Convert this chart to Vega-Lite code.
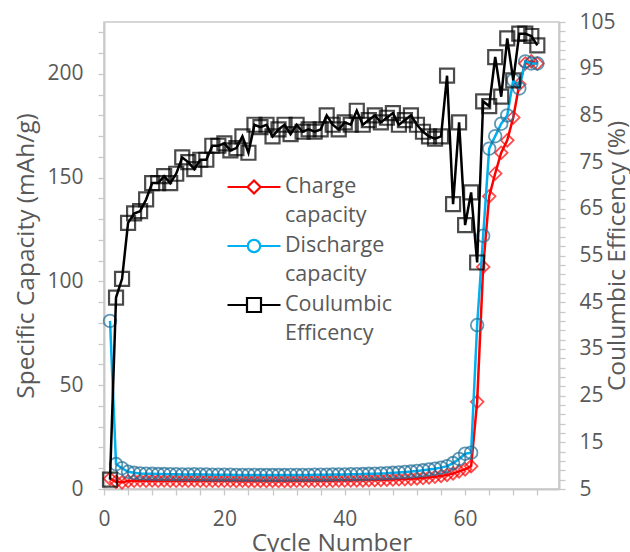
{
  "$schema": "https://vega.github.io/schema/vega-lite/v6.json",
  "width": 455,
  "height": 467,
  "autosize": {"type": "none"},
  "padding": {"left": 104, "top": 22, "right": 71, "bottom": 63},
  "background": "white",
  "config": {
    "font": "Open Sans",
    "view": {"stroke": "#C9C9C9", "strokeWidth": 1.5},
    "axis": {
      "labelColor": "#595959", "titleColor": "#595959",
      "labelFontSize": 21, "titleFontSize": 24.5, "titleFontWeight": "normal",
      "domainColor": "#C9C9C9", "domainWidth": 2,
      "tickColor": "#C9C9C9", "tickWidth": 1.3, "tickSize": 6,
      "grid": false, "labelFont": "Open Sans", "titleFont": "Open Sans"
    },
    "legend": {"labelFont": "Open Sans"}
  },
  "data": {"values": [
    {"cycle":1,"charge":5.0,"discharge":81,"efficiency":7},
    {"cycle":2,"charge":3.5,"discharge":12,"efficiency":46},
    {"cycle":3,"charge":3.2,"discharge":10,"efficiency":50},
    {"cycle":4,"charge":3.8,"discharge":8.3,"efficiency":62},
    {"cycle":5,"charge":4.0,"discharge":7.8,"efficiency":64},
    {"cycle":6,"charge":4.1,"discharge":7.5,"efficiency":64.5},
    {"cycle":7,"charge":4.0,"discharge":7.4,"efficiency":67},
    {"cycle":8,"charge":4.1,"discharge":7.3,"efficiency":70.5},
    {"cycle":9,"charge":4.0,"discharge":7.2,"efficiency":70.5},
    {"cycle":10,"charge":4.1,"discharge":7.2,"efficiency":72},
    {"cycle":11,"charge":4.0,"discharge":7.1,"efficiency":70.5},
    {"cycle":12,"charge":4.0,"discharge":7.1,"efficiency":72.5},
    {"cycle":13,"charge":4.1,"discharge":7.0,"efficiency":76},
    {"cycle":14,"charge":4.0,"discharge":7.0,"efficiency":75},
    {"cycle":15,"charge":4.1,"discharge":7.1,"efficiency":73.5},
    {"cycle":16,"charge":4.0,"discharge":7.0,"efficiency":75.5},
    {"cycle":17,"charge":4.0,"discharge":7.0,"efficiency":75.5},
    {"cycle":18,"charge":4.0,"discharge":6.9,"efficiency":78.5},
    {"cycle":19,"charge":4.0,"discharge":6.9,"efficiency":78.5},
    {"cycle":20,"charge":4.0,"discharge":6.9,"efficiency":79},
    {"cycle":21,"charge":4.0,"discharge":6.9,"efficiency":77.5},
    {"cycle":22,"charge":3.9,"discharge":6.8,"efficiency":78},
    {"cycle":23,"charge":4.0,"discharge":6.8,"efficiency":80.5},
    {"cycle":24,"charge":3.9,"discharge":6.8,"efficiency":77},
    {"cycle":25,"charge":3.9,"discharge":6.8,"efficiency":83},
    {"cycle":26,"charge":3.9,"discharge":6.7,"efficiency":82.5},
    {"cycle":27,"charge":3.9,"discharge":6.7,"efficiency":83},
    {"cycle":28,"charge":3.9,"discharge":6.7,"efficiency":80.5},
    {"cycle":29,"charge":3.9,"discharge":6.7,"efficiency":82},
    {"cycle":30,"charge":3.9,"discharge":6.7,"efficiency":83},
    {"cycle":31,"charge":3.9,"discharge":6.8,"efficiency":81},
    {"cycle":32,"charge":4.0,"discharge":6.8,"efficiency":83},
    {"cycle":33,"charge":4.0,"discharge":6.8,"efficiency":81.5},
    {"cycle":34,"charge":4.0,"discharge":6.8,"efficiency":82},
    {"cycle":35,"charge":4.0,"discharge":6.9,"efficiency":81.5},
    {"cycle":36,"charge":4.0,"discharge":6.9,"efficiency":82},
    {"cycle":37,"charge":4.0,"discharge":6.9,"efficiency":85},
    {"cycle":38,"charge":4.0,"discharge":7.0,"efficiency":83},
    {"cycle":39,"charge":4.1,"discharge":7.0,"efficiency":82},
    {"cycle":40,"charge":4.1,"discharge":7.0,"efficiency":83.5},
    {"cycle":41,"charge":4.1,"discharge":7.1,"efficiency":83},
    {"cycle":42,"charge":4.2,"discharge":7.1,"efficiency":86},
    {"cycle":43,"charge":4.2,"discharge":7.2,"efficiency":83},
    {"cycle":44,"charge":4.3,"discharge":7.3,"efficiency":84},
    {"cycle":45,"charge":4.3,"discharge":7.4,"efficiency":85},
    {"cycle":46,"charge":4.4,"discharge":7.5,"efficiency":83.5},
    {"cycle":47,"charge":4.5,"discharge":7.6,"efficiency":84.5},
    {"cycle":48,"charge":4.6,"discharge":7.8,"efficiency":85.5},
    {"cycle":49,"charge":4.7,"discharge":8.0,"efficiency":83},
    {"cycle":50,"charge":4.8,"discharge":8.2,"efficiency":84},
    {"cycle":51,"charge":4.9,"discharge":8.4,"efficiency":85},
    {"cycle":52,"charge":5.1,"discharge":8.7,"efficiency":83},
    {"cycle":53,"charge":5.3,"discharge":9.0,"efficiency":81.5},
    {"cycle":54,"charge":5.6,"discharge":9.4,"efficiency":80.5},
    {"cycle":55,"charge":5.9,"discharge":9.8,"efficiency":80},
    {"cycle":56,"charge":6.3,"discharge":10.3,"efficiency":80.5},
    {"cycle":57,"charge":6.8,"discharge":11.0,"efficiency":93.5},
    {"cycle":58,"charge":7.5,"discharge":12.5,"efficiency":66},
    {"cycle":59,"charge":8.5,"discharge":14.5,"efficiency":83.5},
    {"cycle":60,"charge":9.5,"discharge":17,"efficiency":61.5},
    {"cycle":61,"charge":11,"discharge":17.5,"efficiency":68.5},
    {"cycle":62,"charge":42,"discharge":79,"efficiency":53.5},
    {"cycle":63,"charge":107,"discharge":122,"efficiency":88},
    {"cycle":64,"charge":141,"discharge":164,"efficiency":87},
    {"cycle":65,"charge":152,"discharge":170,"efficiency":97.5},
    {"cycle":66,"charge":162,"discharge":176,"efficiency":89},
    {"cycle":67,"charge":168,"discharge":180,"efficiency":101.5},
    {"cycle":68,"charge":179,"discharge":197,"efficiency":92.5},
    {"cycle":69,"charge":195,"discharge":193,"efficiency":102.5},
    {"cycle":70,"charge":205,"discharge":206,"efficiency":102.5},
    {"cycle":71,"charge":206,"discharge":205,"efficiency":102},
    {"cycle":72,"charge":205,"discharge":205,"efficiency":100}
  ]},
  "encoding": {
    "x": {
      "field": "cycle", "type": "quantitative",
      "scale": {"domain": [0, 75.6], "nice": false, "zero": false},
      "axis": {
        "title": "Cycle Number",
        "values": [0,4,8,12,16,20,24,28,32,36,40,44,48,52,56,60,64,68,72],
        "labelExpr": "datum.value % 20 === 0 ? datum.label : ''",
        "labelPadding": 13, "labelFlush": false,
        "titleY": 61.5, "titleBaseline": "alphabetic"
      }
    }
  },
  "layer": [
    {
      "encoding": {
        "y": {
          "field": "value", "type": "quantitative",
          "scale": {"domain": [0, 225], "nice": false, "zero": false},
          "axis": {
            "title": "Specific Capacity (mAh/g)",
            "values": [0,10,20,30,40,50,60,70,80,90,100,110,120,130,140,150,160,170,180,190,200,210,220],
            "labelExpr": "datum.value % 50 === 0 ? datum.label : ''",
            "labelPadding": 15,
            "titleX": -71, "titleY": 233.5, "titleAngle": 270,
            "titleBaseline": "alphabetic", "titleAlign": "center"
          }
        }
      },
      "layer": [
        {
          "transform": [{"fold": ["charge"], "as": ["key", "value"]}],
          "layer": [
            {"mark": {"type": "line", "strokeWidth": 2.5},
             "encoding": {"color": {"field": "key", "type": "nominal",
               "scale": {"domain": ["charge", "discharge", "efficiency"], "range": ["#FF0000", "#00B0F0", "#000000"]},
               "legend": {
                 "orient": "none", "legendX": 131, "legendY": 146, "title": null,
                 "symbolType": "M-1.514,0H-0.394M0.394,0H1.514", "symbolSize": 1225, "symbolStrokeWidth": 2.2,
                 "labelFontSize": 21.5, "labelColor": "#595959", "labelLimit": 0, "rowPadding": 0, "labelOffset": 12, "padding": 0,
                 "labelExpr": "datum.value == 'charge' ? ['Charge', 'capacity'] : datum.value == 'discharge' ? ['Discharge', 'capacity'] : ['Coulumbic', 'Efficency']",
                 "labelBaseline": "middle",
                 "encode": {
                   "labels": {"update": {"lineHeight": {"value": 29}}},
                   "symbols": {"update": {
                     "shape": {"signal": "datum.value == 'charge' ? 'M-1.514,0H-0.371M0.371,0H1.514M-0.371,0L0,-0.371L0.371,0L0,0.371Z' : datum.value == 'discharge' ? 'M-1.514,0H-0.354M0.354,0H1.514M-0.354,0A0.354,0.354,0,1,0,0.354,0A0.354,0.354,0,1,0,-0.354,0Z' : 'M-1.514,0H-0.4M0.4,0H1.514M-0.4,-0.4H0.4V0.4H-0.4Z'"},
                     "fill": {"value": "white"}
                   }}
                 }
               }}}},
            {"mark": {"type": "point", "filled": false, "strokeWidth": 1.8, "size": 160},
             "encoding": {
               "stroke": {"field": "key", "type": "nominal", "scale": {"range": ["#FF0000", "#1F6E96", "#000000"]}, "legend": null},
               "shape": {"field": "key", "type": "nominal", "scale": {"range": ["diamond", "circle", "square"]}, "legend": null}
             }}
          ]
        },
        {
          "transform": [{"fold": ["discharge"], "as": ["key", "value"]}],
          "layer": [
            {"mark": {"type": "line", "strokeWidth": 2.5},
             "encoding": {"color": {"field": "key", "type": "nominal",
               "scale": {"domain": ["charge", "discharge", "efficiency"], "range": ["#FF0000", "#00B0F0", "#000000"]}}}},
            {"mark": {"type": "point", "filled": false, "strokeWidth": 1.8, "size": 160},
             "encoding": {
               "stroke": {"field": "key", "type": "nominal", "scale": {"range": ["#FF0000", "#1F6E96", "#000000"]}, "legend": null},
               "shape": {"field": "key", "type": "nominal", "scale": {"range": ["diamond", "circle", "square"]}, "legend": null}
             }}
          ]
        }
      ]
    },
    {
      "transform": [{"fold": ["efficiency"], "as": ["key", "value"]}],
      "encoding": {
        "y": {
          "field": "value", "type": "quantitative",
          "scale": {"domain": [5, 105], "nice": false, "zero": false},
          "axis": {
            "orient": "right",
            "title": "Coulumbic Efficency (%)",
            "values": [5,7,9,11,13,15,17,19,21,23,25,27,29,31,33,35,37,39,41,43,45,47,49,51,53,55,57,59,61,63,65,67,69,71,73,75,77,79,81,83,85,87,89,91,93,95,97,99,101,103,105],
            "labelExpr": "(datum.value - 5) % 10 === 0 ? datum.label : ''",
            "labelPadding": 14,
            "titleX": 65, "titleY": 233.5, "titleAngle": 270,
            "titleBaseline": "alphabetic", "titleAlign": "center"
          }
        }
      },
      "layer": [
        {"mark": {"type": "line", "strokeWidth": 2.5},
         "encoding": {"color": {"field": "key", "type": "nominal",
           "scale": {"domain": ["charge", "discharge", "efficiency"], "range": ["#FF0000", "#00B0F0", "#000000"]}}}},
        {"mark": {"type": "point", "filled": false, "strokeWidth": 2.2, "size": 196},
         "encoding": {
           "stroke": {"field": "key", "type": "nominal", "scale": {"range": ["#FF0000", "#1F6E96", "#000000"]}, "legend": null},
           "shape": {"field": "key", "type": "nominal", "scale": {"range": ["diamond", "circle", "square"]}, "legend": null}
         }}
      ]
    }
  ],
  "resolve": {"scale": {"y": "independent"}}
}
